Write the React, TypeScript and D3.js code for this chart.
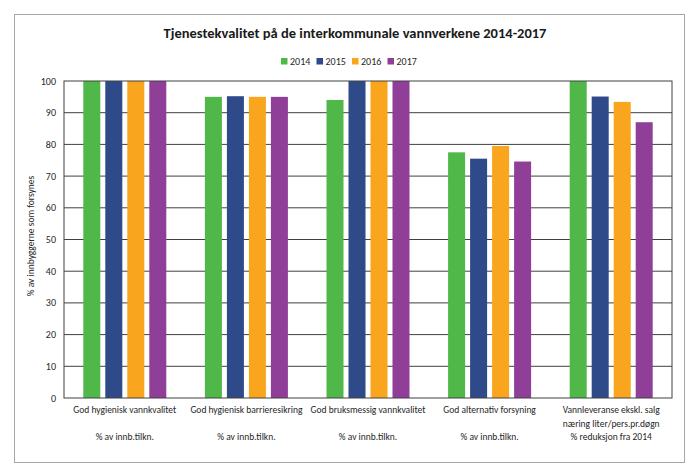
import React from "react";
import * as d3 from "d3";

const categories = [
  "God hygienisk vannkvalitet",
  "God hygienisk barrieresikring",
  "God bruksmessig vannkvalitet",
  "God alternativ forsyning",
  "Vannleveranse ekskl. salg",
];
const categoryLines: string[][] = [
  ["God hygienisk vannkvalitet", "", "% av innb.tilkn."],
  ["God hygienisk barrieresikring", "", "% av innb.tilkn."],
  ["God bruksmessig vannkvalitet", "", "% av innb.tilkn."],
  ["God alternativ forsyning", "", "% av innb.tilkn."],
  ["Vannleveranse ekskl. salg", "næring liter/pers.pr.døgn", "% reduksjon fra 2014"],
];
const seriesNames = ["2014", "2015", "2016", "2017"];
const values2014 = [100, 95, 94, 77.5, 100];
const values2015 = [100, 95.2, 100, 75.5, 95.1];
const values2016 = [100, 95, 100, 79.5, 93.4];
const values2017 = [100, 95, 100, 74.6, 87];
const seriesValues = [values2014, values2015, values2016, values2017];
const colors = ["#4fb848", "#2f4a89", "#f9a51d", "#8f3f98"];
const yTicks = [0, 10, 20, 30, 40, 50, 60, 70, 80, 90, 100];

const W = 698;
const H = 472;
const FONT = "Carlito, Lato, 'Open Sans', sans-serif";

export default function App() {
  const left = 64, right = 672, top = 81, bottom = 398;
  const y = d3.scaleLinear().domain([0, 100]).range([bottom, top]);
  const x0 = d3.scaleBand<string>().domain(categories).range([left, right]);
  const bw = x0.bandwidth();
  const groupW = 88;
  const off = (bw - groupW) / 2;
  const x1 = d3
    .scaleBand<string>()
    .domain(seriesNames)
    .range([off, off + groupW])
    .paddingInner(0.227)
    .paddingOuter(0.1135);

  const legendX = 281;
  const legendStep = 35.5;

  return (
    <svg width={W} height={H} style={{ position: "absolute", left: 0, top: 0 }}>
      <rect x={0} y={0} width={W} height={H} fill="#fff" />
      <rect x={14.5} y={14.5} width={670} height={448} fill="#fff" stroke="#a6a6a6" strokeWidth={1} />
      <text
        x={355}
        y={37.5}
        textAnchor="middle"
        fontFamily={FONT}
        fontWeight="bold"
        fontSize={14.5}
        fill="#1a1a1a"
      >
        Tjenestekvalitet på de interkommunale vannverkene 2014-2017
      </text>
      {seriesNames.map((s, i) => (
        <g key={s} transform={`translate(${legendX + i * legendStep},0)`}>
          <rect x={0} y={58} width={6.5} height={6.5} fill={colors[i]} />
          <text x={9} y={64.5} fontFamily={FONT} fontSize={10} fill="#262626">
            {s}
          </text>
        </g>
      ))}
      {yTicks.map((t) => (
        <g key={t}>
          {t > 0 && t < 100 && (
            <line x1={left} x2={right} y1={y(t)} y2={y(t)} stroke="#404040" strokeWidth={1} />
          )}
          <text
            x={56}
            y={y(t) + 3.5}
            textAnchor="end"
            fontFamily={FONT}
            fontSize={10}
            fill="#262626"
          >
            {t}
          </text>
        </g>
      ))}
      {categories.map((c, ci) => (
        <g key={c} transform={`translate(${x0(c)},0)`}>
          {seriesNames.map((s, si) => (
            <rect
              key={s}
              x={x1(s)}
              y={y(seriesValues[si][ci])}
              width={x1.bandwidth()}
              height={bottom - y(seriesValues[si][ci])}
              fill={colors[si]}
            />
          ))}
        </g>
      ))}
      <rect
        x={left}
        y={top}
        width={right - left}
        height={bottom - top}
        fill="none"
        stroke="#404040"
        strokeWidth={1}
      />
      {categories.map((c, ci) => (
        <text
          key={c}
          x={(x0(c) as number) + bw / 2}
          textAnchor="middle"
          fontFamily={FONT}
          fontSize={9.5}
          fill="#262626"
        >
          {categoryLines[ci].map((ln, li) => (
            <tspan key={li} x={(x0(c) as number) + bw / 2} y={413 + li * 13.5}>
              {ln}
            </tspan>
          ))}
        </text>
      ))}
      <text
        transform={`translate(34,236) rotate(-90)`}
        textAnchor="middle"
        fontFamily={FONT}
        fontSize={9.5}
        fill="#262626"
      >
        % av innbyggerne som forsynes
      </text>
    </svg>
  );
}
